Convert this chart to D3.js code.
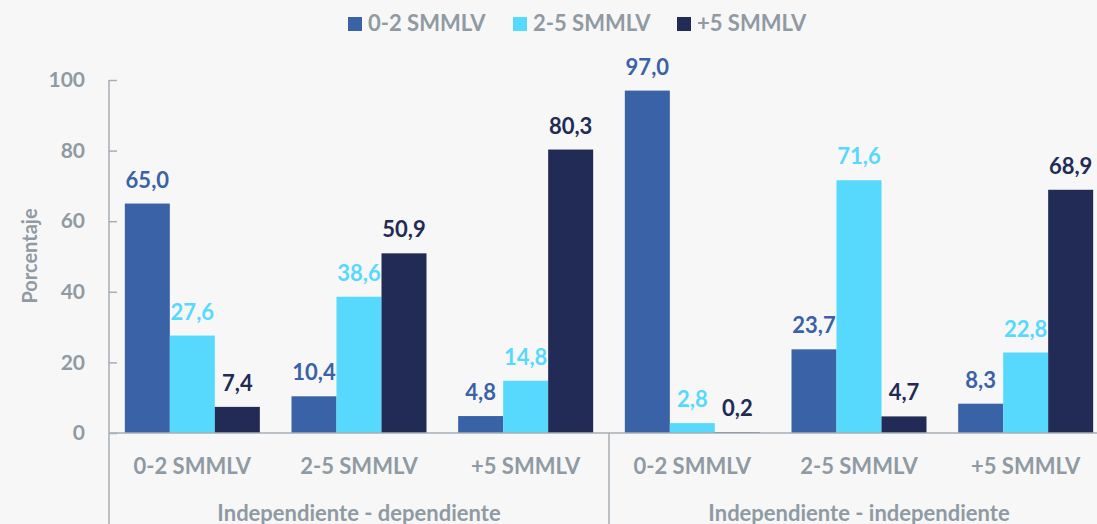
<!DOCTYPE html>
<html>
<head>
<meta charset="utf-8">
<script src="https://cdn.jsdelivr.net/npm/d3@7"></script>
<style>
  html, body { margin: 0; padding: 0; background: #f7f7f7; }
  svg { display: block; font-family: Lato, "Open Sans", sans-serif; font-weight: 700; }
</style>
</head>
<body>
<svg id="chart" width="1097" height="524"></svg>
<script>
// data
const groups = ['Independiente - dependiente', 'Independiente - independiente'];
const categories = ['0-2 SMMLV', '2-5 SMMLV', '+5 SMMLV'];
const seriesNames = ['0-2 SMMLV', '2-5 SMMLV', '+5 SMMLV'];
const seriesColors = ['#3a62a7', '#57d9fe', '#212b55'];
const s02 = [65.0, 10.4, 4.8, 97.0, 23.7, 8.3];
const s25 = [27.6, 38.6, 14.8, 2.8, 71.6, 22.8];
const s5 = [7.4, 50.9, 80.3, 0.2, 4.7, 68.9];
const yTicks = [0, 20, 40, 60, 80, 100];

const series = [s02, s25, s5];
const svg = d3.select('#chart');
const grey = '#8f9aa3', axisCol = '#a7aeb4';

const mLeft = 109, mRight = 1109, mTop = 80, mBottom = 433;

// one band per (group, category) pair
const bandKeys = [];
groups.forEach((g, gi) => categories.forEach((c, ci) => bandKeys.push(gi + '|' + ci)));

const x0 = d3.scaleBand().domain(bandKeys).range([mLeft, mRight]).paddingInner(0.19).paddingOuter(0.095);
const x1 = d3.scaleBand().domain(d3.range(series.length)).range([0, x0.bandwidth()]);
const y = d3.scaleLinear().domain([0, 100]).range([mBottom, mTop]);
const gx = d3.scaleBand().domain(groups).range([mLeft, mRight]);

// bars
bandKeys.forEach((k, i) => {
    const g = svg.append('g').attr('transform', `translate(${x0(k)},0)`);
    series.forEach((s, si) => {
        g.append('rect')
            .attr('x', x1(si))
            .attr('y', y(s[i]))
            .attr('width', x1.bandwidth())
            .attr('height', mBottom - y(s[i]))
            .attr('fill', seriesColors[si]);
        g.append('text')
            .attr('x', x1(si) + x1.bandwidth() / 2)
            .attr('y', y(s[i]) - 16)
            .attr('text-anchor', 'middle')
            .attr('fill', seriesColors[si])
            .attr('font-size', 22)
            .text(d3.format('.1f')(s[i]).replace('.', ','));
    });
});

// y axis
const yAxis = svg.append('g').attr('transform', `translate(${mLeft},0)`)
    .call(d3.axisLeft(y).tickValues(yTicks).tickSize(-8).tickPadding(24));
yAxis.select('.domain').remove();
yAxis.selectAll('.tick line').attr('stroke', axisCol).attr('stroke-width', 1.5);
yAxis.selectAll('.tick text').attr('fill', grey).attr('font-size', 21)
    .attr('font-family', 'Lato, sans-serif').attr('font-weight', 700);
svg.append('line').attr('x1', mLeft).attr('x2', mLeft).attr('y1', mTop).attr('y2', 524)
    .attr('stroke', axisCol).attr('stroke-width', 1.5);

// x baseline and group separators
svg.append('line').attr('x1', mLeft).attr('x2', mRight).attr('y1', mBottom).attr('y2', mBottom)
    .attr('stroke', axisCol).attr('stroke-width', 1.5);
groups.slice(1).forEach(g => {
    svg.append('line').attr('x1', gx(g)).attr('x2', gx(g)).attr('y1', mBottom).attr('y2', 524)
        .attr('stroke', axisCol).attr('stroke-width', 1.5);
});

// category labels
bandKeys.forEach(k => {
    const ci = +k.split('|')[1];
    svg.append('text')
        .attr('x', x0(k) + x0.bandwidth() / 2)
        .attr('y', 474)
        .attr('text-anchor', 'middle')
        .attr('fill', grey)
        .attr('font-size', 22)
        .text(categories[ci]);
});

// group labels
groups.forEach(g => {
    svg.append('text')
        .attr('x', gx(g) + gx.bandwidth() / 2)
        .attr('y', 521)
        .attr('text-anchor', 'middle')
        .attr('fill', grey)
        .attr('font-size', 22)
        .text(g);
});

// y title
svg.append('text')
    .attr('transform', 'translate(37,256) rotate(-90)')
    .attr('text-anchor', 'middle')
    .attr('fill', grey)
    .attr('font-size', 20)
    .text('Porcentaje');

// legend
const legendX = [348, 513, 677];
seriesNames.forEach((n, i) => {
    svg.append('rect').attr('x', legendX[i]).attr('y', 17).attr('width', 14).attr('height', 14)
        .attr('fill', seriesColors[i]);
    svg.append('text').attr('x', legendX[i] + 20).attr('y', 31)
        .attr('fill', grey).attr('font-size', 22).text(n);
});
</script>
</body>
</html>
